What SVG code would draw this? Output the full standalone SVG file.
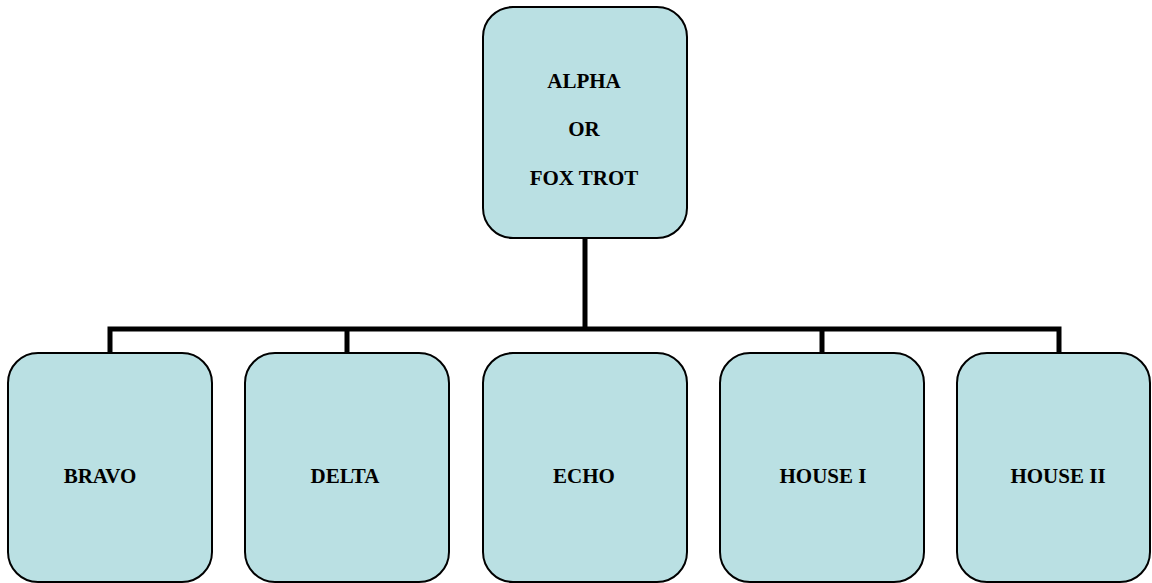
<svg xmlns="http://www.w3.org/2000/svg" width="1152" height="583" viewBox="0 0 1152 583">
<style>
.box{fill:#bae0e3;stroke:#000;stroke-width:2}
.lbl{font-family:"Liberation Serif","Times New Roman",serif;font-weight:bold;font-size:21px;fill:#000;text-anchor:middle}
.conn{fill:none;stroke:#000;stroke-width:5}
</style>
<rect width="1152" height="583" fill="#fff"/>
<g id="connectors">
<path class="conn" d="M585 238 V329"/>
<path class="conn" d="M110 353 V329 H1059 V353"/>
<path class="conn" d="M347 329 V353 M822 329 V353"/>
</g>
<g id="alpha">
<rect class="box" x="483" y="7" width="204" height="231" rx="30"/>
<text class="lbl" x="584" y="88">ALPHA</text>
<text class="lbl" x="584" y="136">OR</text>
<text class="lbl" x="584" y="185">FOX TROT</text>
</g>
<g id="bravo">
<rect class="box" x="8" y="353" width="204" height="229" rx="30"/>
<text class="lbl" x="100" y="483">BRAVO</text>
</g>
<g id="delta">
<rect class="box" x="245" y="353" width="204" height="229" rx="30"/>
<text class="lbl" x="345" y="483">DELTA</text>
</g>
<g id="echo">
<rect class="box" x="483" y="353" width="204" height="229" rx="30"/>
<text class="lbl" x="584" y="483">ECHO</text>
</g>
<g id="house1">
<rect class="box" x="720" y="353" width="204" height="229" rx="30"/>
<text class="lbl" x="823" y="483">HOUSE I</text>
</g>
<g id="house2">
<rect class="box" x="957" y="353" width="193" height="229" rx="30"/>
<text class="lbl" x="1058" y="483">HOUSE II</text>
</g>
</svg>
